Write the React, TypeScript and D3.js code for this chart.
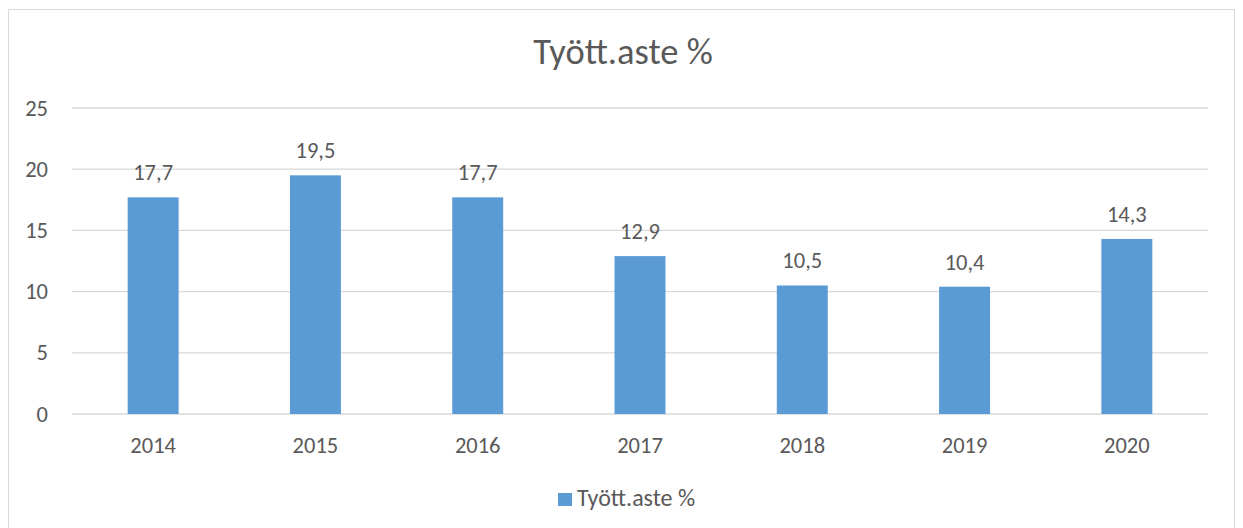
import React from 'react';
import * as d3 from 'd3';

const years = ['2014', '2015', '2016', '2017', '2018', '2019', '2020'];
const values = [17.7, 19.5, 17.7, 12.9, 10.5, 10.4, 14.3];
const yTicks = [0, 5, 10, 15, 20, 25];
const title = 'Tyött.aste %';

const W = 1243;
const H = 528;
const FONT = 'Carlito, Lato, "Open Sans", sans-serif';
const TEXT = '#595959';
const BAR = '#5B9BD5';
const LBL = 22.5;

export default function App() {
  const x = d3.scaleBand().domain(years).range([72, 1208]).paddingInner(0.686).paddingOuter(0.343);
  const y = d3.scaleLinear().domain([0, 25]).range([414, 108]);
  const fmt = (v: number) => v.toFixed(1).replace('.', ',');

  return (
    <svg width={W} height={H} style={{ position: 'absolute', left: 0, top: 0, fontFamily: FONT }}>
      <rect x={8.5} y={9.5} width={1226} height={530} fill="#fff" stroke="#d9d9d9" />
      <text x={623} y={64} textAnchor="middle" fontSize={36.5} fill={TEXT}>{title}</text>
      {yTicks.map(t => (
        <g key={t}>
          <line x1={72} x2={1208} y1={y(t)} y2={y(t)} stroke="#d9d9d9" strokeWidth={1.3} />
          <text x={48} y={y(t) + 7.5} textAnchor="end" fontSize={LBL} fill={TEXT}>{t}</text>
        </g>
      ))}
      {years.map((yr, i) => (
        <g key={yr}>
          <rect x={x(yr)} y={y(values[i])} width={x.bandwidth()} height={y(0) - y(values[i])} fill={BAR} />
          <text x={(x(yr) ?? 0) + x.bandwidth() / 2} y={y(values[i]) - 17} textAnchor="middle" fontSize={LBL} fill={TEXT}>{fmt(values[i])}</text>
          <text x={(x(yr) ?? 0) + x.bandwidth() / 2} y={453} textAnchor="middle" fontSize={LBL} fill={TEXT}>{yr}</text>
        </g>
      ))}
      <rect x={558} y={493} width={14} height={13} fill={BAR} />
      <text x={577} y={506} fontSize={24} fill={TEXT}>{title}</text>
    </svg>
  );
}
